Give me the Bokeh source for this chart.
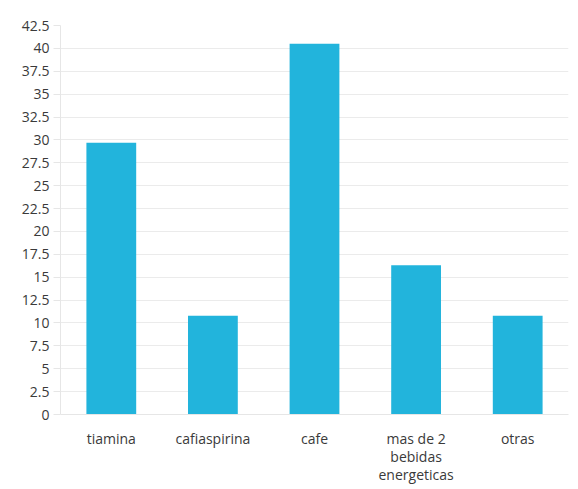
from bokeh.plotting import figure
from bokeh.models import FixedTicker, Range1d
from bokeh.embed import file_html
from bokeh.resources import INLINE

categories = ["tiamina", "cafiaspirina", "cafe", "mas de 2\nbebidas\nenergeticas", "otras"]
values = [29.7, 10.8, 40.5, 16.3, 10.8]
y_ticks = [0, 2.5, 5, 7.5, 10, 12.5, 15, 17.5, 20, 22.5, 25, 27.5, 30, 32.5, 35, 37.5, 40, 42.5]
y_tick_labels = ["0", "2.5", "5", "7.5", "10", "12.5", "15", "17.5", "20", "22.5", "25",
                 "27.5", "30", "32.5", "35", "37.5", "40", "42.5"]

p = figure(x_range=categories, width=578, height=489, output_backend="svg",
           toolbar_location=None, min_border_left=60, min_border_right=10,
           min_border_top=25, min_border_bottom=75)
p.y_range = Range1d(0, 42.5)

p.vbar(x=categories, top=values, width=0.49, color="#22b4dc", line_color=None)

font = "Open Sans"
p.outline_line_color = None
p.background_fill_color = "white"
p.border_fill_color = "white"

p.yaxis.ticker = FixedTicker(ticks=y_ticks)
p.yaxis.major_label_overrides = {t: l for t, l in zip(y_ticks, y_tick_labels)}
p.yaxis.major_label_text_font = font
p.yaxis.major_label_text_font_size = "14px"
p.yaxis.major_label_text_color = "#3a3a3a"
p.yaxis.major_tick_out = 7
p.yaxis.major_tick_in = 0
p.yaxis.minor_tick_line_color = None
p.yaxis.major_tick_line_color = "#e6e6e6"
p.yaxis.axis_line_color = "#e6e6e6"
p.yaxis.major_label_standoff = 4

p.xaxis.major_label_text_font = font
p.xaxis.major_label_text_font_size = "14px"
p.xaxis.major_label_text_color = "#3a3a3a"
p.xaxis.major_label_text_line_height = 0.95
p.xaxis.major_tick_line_color = None
p.xaxis.major_tick_out = 0
p.xaxis.major_tick_in = 0
p.xaxis.axis_line_color = "#e6e6e6"
p.xaxis.major_label_standoff = 14

p.xgrid.grid_line_color = None
p.ygrid.grid_line_color = "#ebebeb"
p.ygrid.grid_line_width = 1

open("out.html", "w").write(file_html(p, INLINE))
